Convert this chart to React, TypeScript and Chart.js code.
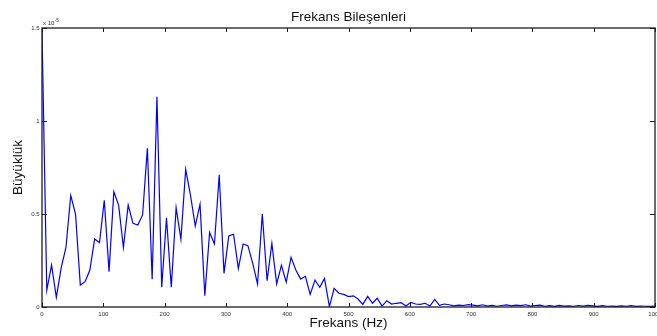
import React, { useEffect, useRef } from "react";
import { Chart, registerables } from "chart.js";

Chart.register(...registerables);

// Frequency bins (Hz)
const FREQUENCIES_HZ = [
  0, 7.8, 15.6, 23.4, 31.3, 39.1, 46.9, 54.7, 62.5, 70.3, 78.1, 85.9, 93.8, 101.6, 109.4, 117.2,
  125, 132.8, 140.6, 148.4, 156.3, 164.1, 171.9, 179.7, 187.5, 195.3, 203.1, 210.9, 218.8, 226.6,
  234.4, 242.2, 250, 257.8, 265.6, 273.4, 281.3, 289.1, 296.9, 304.7, 312.5, 320.3, 328.1, 335.9,
  343.8, 351.6, 359.4, 367.2, 375, 382.8, 390.6, 398.4, 406.3, 414.1, 421.9, 429.7, 437.5, 445.3,
  453.1, 460.9, 468.8, 476.6, 484.4, 492.2, 500, 507.8, 515.6, 523.4, 531.3, 539.1, 546.9, 554.7,
  562.5, 570.3, 578.1, 585.9, 593.8, 601.6, 609.4, 617.2, 625, 632.8, 640.6, 648.4, 656.3, 664.1,
  671.9, 679.7, 687.5, 695.3, 703.1, 710.9, 718.8, 726.6, 734.4, 742.2, 750, 757.8, 765.6, 773.4,
  781.3, 789.1, 796.9, 804.7, 812.5, 820.3, 828.1, 835.9, 843.8, 851.6, 859.4, 867.2, 875, 882.8,
  890.6, 898.4, 906.3, 914.1, 921.9, 929.7, 937.5, 945.3, 953.1, 960.9, 968.8, 976.6, 984.4, 992.2,
  1000,
];

// Magnitudes in units of 1e-5
const MAGNITUDES_E5 = [
  1.49, 0.09, 0.225, 0.052, 0.21, 0.32, 0.6, 0.5, 0.118, 0.136, 0.199, 0.366, 0.346, 0.574, 0.19,
  0.62, 0.548, 0.321, 0.548, 0.45, 0.441, 0.495, 0.853, 0.149, 1.13, 0.106, 0.48, 0.106, 0.534,
  0.364, 0.74, 0.602, 0.435, 0.552, 0.061, 0.4, 0.339, 0.711, 0.181, 0.382, 0.391, 0.206, 0.339,
  0.33, 0.235, 0.124, 0.5, 0.141, 0.342, 0.124, 0.224, 0.134, 0.267, 0.199, 0.15, 0.165, 0.068,
  0.145, 0.106, 0.154, 0.002, 0.1, 0.074, 0.068, 0.056, 0.06, 0.043, 0.014, 0.057, 0.02, 0.047,
  0.005, 0.034, 0.016, 0.02, 0.023, 0.005, 0.025, 0.016, 0.014, 0.02, 0.005, 0.041, 0.009, 0.016,
  0.012, 0.006, 0.01, 0.008, 0.013, 0.01, 0.006, 0.012, 0.005, 0.009, 0.004, 0.008, 0.011, 0.006,
  0.01, 0.007, 0.012, 0.005, 0.008, 0.01, 0.004, 0.007, 0.003, 0.009, 0.005, 0.006, 0.004, 0.008,
  0.005, 0.009, 0.006, 0.003, 0.007, 0.004, 0.005, 0.003, 0.006, 0.004, 0.007, 0.003, 0.005, 0.004,
  0.003, 0.005,
];

const X_TICKS = [0, 100, 200, 300, 400, 500, 600, 700, 800, 900, 1000];
const Y_TICKS = [0, 0.5, 1, 1.5];
const TITLE = "Frekans Bileşenleri";
const X_LABEL = "Frekans (Hz)";
const Y_LABEL = "Büyüklük";
const Y_MULTIPLIER = "x 10";
const Y_EXPONENT = "-5";

const FONT = "Arial, 'Liberation Sans', sans-serif";

const matlabAxesPlugin = {
  id: "matlabAxes",
  afterDraw(chart: any) {
    const { ctx, chartArea: a, scales } = chart;
    ctx.save();
    // box
    ctx.strokeStyle = "#1e1e1e";
    ctx.lineWidth = 1.3;
    ctx.strokeRect(a.left, a.top, a.right - a.left, a.bottom - a.top);
    // inward ticks
    ctx.lineWidth = 1;
    ctx.beginPath();
    X_TICKS.forEach((v) => {
      const px = Math.round(scales.x.getPixelForValue(v)) + 0.5;
      ctx.moveTo(px, a.bottom);
      ctx.lineTo(px, a.bottom - 4);
      ctx.moveTo(px, a.top);
      ctx.lineTo(px, a.top + 4);
    });
    Y_TICKS.forEach((v) => {
      const py = Math.round(scales.y.getPixelForValue(v)) + 0.5;
      ctx.moveTo(a.left, py);
      ctx.lineTo(a.left + 5, py);
      ctx.moveTo(a.right, py);
      ctx.lineTo(a.right - 5, py);
    });
    ctx.stroke();
    // title
    ctx.fillStyle = "#111";
    ctx.font = `13.5px ${FONT}`;
    ctx.textAlign = "center";
    ctx.textBaseline = "middle";
    ctx.fillText(TITLE, (a.left + a.right) / 2, 17);
    // exponent label
    ctx.fillStyle = "#333";
    ctx.textAlign = "left";
    ctx.textBaseline = "alphabetic";
    ctx.font = `6px ${FONT}`;
    const x0 = a.left + 1;
    ctx.fillText(Y_MULTIPLIER, x0, a.top - 3);
    const w = ctx.measureText(Y_MULTIPLIER).width;
    ctx.font = `4.5px ${FONT}`;
    ctx.fillText(Y_EXPONENT, x0 + w + 0.5, a.top - 6.5);
    ctx.restore();
  },
};

export default function App() {
  const canvasRef = useRef<HTMLCanvasElement | null>(null);

  useEffect(() => {
    document.body.style.margin = "0";
    const canvas = canvasRef.current;
    if (!canvas) return;
    const points = FREQUENCIES_HZ.map((f, i) => ({ x: f, y: MAGNITUDES_E5[i] }));
    const chart = new Chart(canvas, {
      type: "line",
      data: {
        datasets: [
          {
            data: points,
            borderColor: "#0000ff",
            borderWidth: 1.2,
            pointRadius: 0,
            fill: false,
            tension: 0,
          },
        ],
      },
      options: {
        animation: false,
        responsive: false,
        layout: { padding: { top: 28, right: 2, left: 0, bottom: 0 }, autoPadding: false },
        plugins: {
          legend: { display: false },
          title: { display: false },
          tooltip: { enabled: false },
        },
        scales: {
          x: {
            type: "linear",
            min: 0,
            max: 1000,
            afterFit: (s: any) => {
              s.height = 29;
              s.paddingLeft = 0;
              s.paddingRight = 0;
            },
            grid: { display: false, drawTicks: false },
            border: { display: false },
            ticks: {
              stepSize: 100,
              autoSkip: false,
              maxRotation: 0,
              padding: 4,
              color: "#333",
              font: { size: 6, family: FONT },
              callback: (v: any) => String(v),
            },
            title: {
              display: true,
              text: X_LABEL,
              color: "#111",
              font: { size: 13.5, family: FONT },
              padding: { top: 0, bottom: 5 },
            },
          },
          y: {
            type: "linear",
            min: 0,
            max: 1.5,
            afterFit: (s: any) => {
              s.width = 42;
              s.paddingTop = 0;
              s.paddingBottom = 0;
            },
            grid: { display: false, drawTicks: false },
            border: { display: false },
            ticks: {
              stepSize: 0.5,
              padding: 2.5,
              color: "#333",
              font: { size: 6, family: FONT },
              callback: (v: any) => String(v),
            },
            title: {
              display: true,
              text: Y_LABEL,
              color: "#111",
              font: { size: 13.5, family: FONT },
              padding: { top: 10, bottom: 0 },
            },
          },
        },
      },
      plugins: [matlabAxesPlugin],
    });
    return () => chart.destroy();
  }, []);

  return (
    <div style={{ width: 657, height: 336 }}>
      <canvas ref={canvasRef} width={657} height={336} style={{ display: "block" }} />
    </div>
  );
}
